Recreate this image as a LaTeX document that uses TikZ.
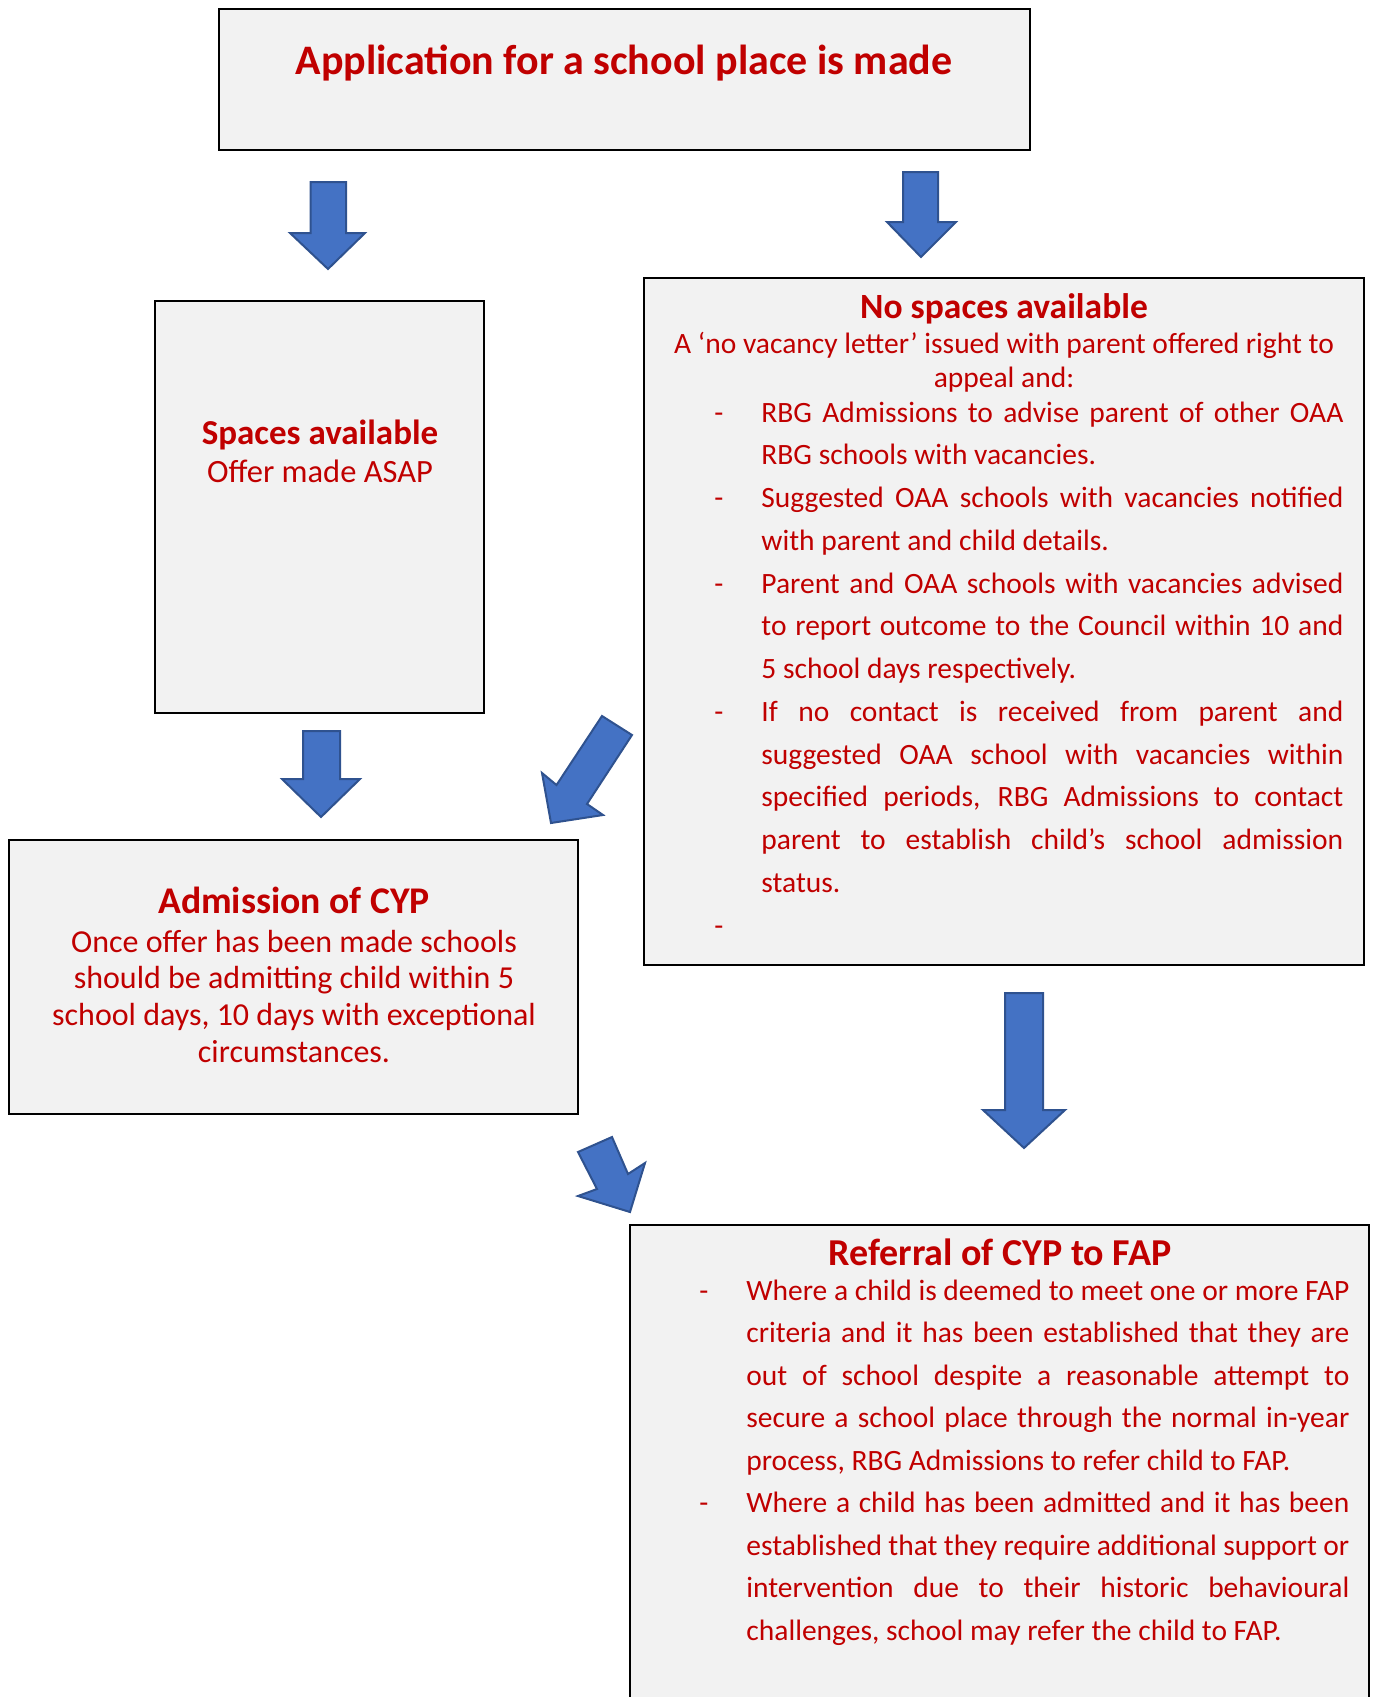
\documentclass[tikz,border=0pt]{standalone}
\usepackage{fontspec}
\setmainfont{Carlito}
\definecolor{txtred}{HTML}{C00000}
\definecolor{boxfill}{HTML}{F2F2F2}
\definecolor{arrfill}{HTML}{4472C4}
\definecolor{arrline}{HTML}{2F528F}
\newlength\mydw
\newlength\mytw
\newcommand\myJ[2]{\noindent\makebox[\mydw][l]{#1}\makebox[\mytw][s]{#2}\par}
\newcommand\myL[2]{\noindent\makebox[\mydw][l]{#1}\makebox[\mytw][l]{#2}\par}
\begin{document}
\begin{tikzpicture}[x=0.5pt,y=-0.5pt,
  box/.style={draw=black, fill=boxfill, line width=1.4pt},
  blockarrow/.style={fill=arrfill, draw=arrline, line width=1pt, line join=miter},
  txt/.style={inner sep=0pt, text=txtred, anchor=base},
]
\useasboundingbox (0,0) rectangle (1373,1697);

% boxes
\path[box] (219,9) rectangle (1030,150);
\path[box] (155,301) rectangle (484,713);
\path[box] (644,278) rectangle (1364,965);
\path[box] (9,840) rectangle (578,1114);
\path[box] (630,1225) rectangle (1369,1730);

% block arrows
\path[blockarrow] (310.5,182) -- (346,182) -- (346,233) -- (365,233) -- (328,269) -- (290,233) -- (310.5,233) -- cycle;
\path[blockarrow] (903,172) -- (938,172) -- (938,222) -- (956,222) -- (921,257) -- (887,222) -- (903,222) -- cycle;
\path[blockarrow] (303,731) -- (340,731) -- (340,779) -- (360,779) -- (321,817) -- (282,779) -- (303,779) -- cycle;
\path[blockarrow] (1005,993) -- (1043,993) -- (1043,1110) -- (1065,1110) -- (1024,1148) -- (983,1110) -- (1005,1110) -- cycle;
\path[blockarrow] (602,716) -- (632,735) -- (587,804) -- (603,815) -- (551,823) -- (542,773) -- (556.5,785) -- cycle;
\path[blockarrow] (578,1152) -- (612,1137) -- (628,1174) -- (645,1163) -- (630,1212) -- (578,1196) -- (597,1189) -- cycle;

% texts
\node[txt, font=\fontsize{21}{24}\selectfont\bfseries] (apptitle) at (624,74) {Application for a school place is made};

\node[txt, font=\fontsize{17.5}{20}\selectfont\bfseries] (sphead) at (320,444) {Spaces available};
\node[txt, font=\fontsize{16.25}{19}\selectfont] (spbody) at (320,482) {Offer made ASAP};

\node[txt, font=\fontsize{17.75}{20}\selectfont\bfseries] (nshead) at (1004,318) {No spaces available};
\node[txt] (nsintro) at (1004,353) {\parbox[t]{340pt}{\centering\fontsize{14.75}{17}\selectfont
A ‘no vacancy letter’ issued with parent offered right to\\appeal and:}};
\node[txt, anchor=base west] (nslist) at (714,422) {\parbox[t]{314.5pt}{\fontsize{14.75}{21.375}\selectfont
\setlength\mydw{23.5pt}\setlength\mytw{291pt}%
\myJ{-}{RBG Admissions to advise parent of other OAA}
\myL{}{RBG schools with vacancies.}
\myJ{-}{Suggested OAA schools with vacancies notified}
\myL{}{with parent and child details.}
\myJ{-}{Parent and OAA schools with vacancies advised}
\myJ{}{to report outcome to the Council within 10 and}
\myL{}{5 school days respectively.}
\myJ{-}{If no contact is received from parent and}
\myJ{}{suggested OAA school with vacancies within}
\myJ{}{specified periods, RBG Admissions to contact}
\myJ{}{parent to establish child’s school admission}
\myL{}{status.}
\myL{-}{}}};

\node[txt, font=\fontsize{18.85}{21}\selectfont\bfseries] (adhead) at (294,913) {Admission of CYP};
\node[txt] (adbody) at (294,952) {\parbox[t]{280pt}{\centering\fontsize{16}{18.35}\selectfont
Once offer has been made schools\\should be admitting child within 5\\school days, 10 days with exceptional\\circumstances.}};

\node[txt, font=\fontsize{19}{22}\selectfont\bfseries] (rfhead) at (1000,1265) {Referral of CYP to FAP};
\node[txt, anchor=base west] (rflist) at (699,1300) {\parbox[t]{325pt}{\fontsize{14.75}{21.25}\selectfont
\setlength\mydw{23.5pt}\setlength\mytw{301.5pt}%
\myJ{-}{Where a child is deemed to meet one or more FAP}
\myJ{}{criteria and it has been established that they are}
\myJ{}{out of school despite a reasonable attempt to}
\myJ{}{secure a school place through the normal in-year}
\myL{}{process, RBG Admissions to refer child to FAP.}
\myJ{-}{Where a child has been admitted and it has been}
\myJ{}{established that they require additional support or}
\myJ{}{intervention due to their historic behavioural}
\myL{}{challenges, school may refer the child to FAP.}}};
\end{tikzpicture}
\end{document}
